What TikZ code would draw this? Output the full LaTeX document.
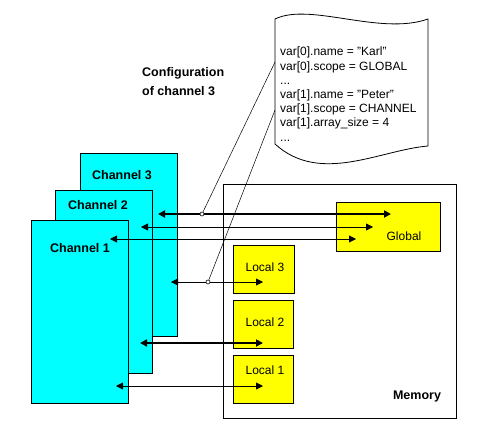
\documentclass[tikz,border=0pt]{standalone}
\usepackage{fontspec}
\setmainfont{Liberation Sans}
\usetikzlibrary{arrows.meta}
\definecolor{chancyan}{RGB}{0,255,255}
\definecolor{memyellow}{RGB}{255,255,0}

\begin{document}
\begin{tikzpicture}[x=1pt, y=-1pt,
    every node/.style={font=\fontsize{12}{14.2}\selectfont, inner sep=0pt},
    chanbox/.style={draw, fill=chancyan, line width=0.9pt},
    membox/.style={draw, fill=memyellow, line width=0.9pt},
    heading/.style={font=\fontsize{12.5}{19.5}\selectfont\bfseries},
    access/.style={line width=0.8pt, {Triangle[length=7pt,width=7pt]}-{Triangle[length=7pt,width=7pt]}},
    heavy/.style={access, line width=1.8pt},
    tap/.style={draw, circle, fill=white, line width=0.6pt, minimum size=4pt},
    leader/.style={line width=0.5pt}]

  \useasboundingbox (0, 0) rectangle (490, 429);

  % channels, back to front
  \draw[chanbox]    ( 80, 153) rectangle (177, 336);
  \node[heading]    (ch3) at (122, 175) {Channel 3};
  \draw[chanbox]    ( 55, 190) rectangle (152, 373);
  \node[heading]    (ch2) at ( 98, 205) {Channel 2};
  \draw[chanbox]    ( 31, 220) rectangle (128, 403);
  \node[heading]    (ch1) at ( 80, 248) {Channel 1};

  % memory with its areas
  \draw[line width=0.9pt] (223, 184) rectangle (456, 418);
  \node[heading]    (mem) at (417, 396) {Memory};
  \draw[membox]     (336, 202) rectangle (440, 251);
  \node             (glob) at (404, 236) {Global};
  \draw[membox]     (233, 245) rectangle (294, 293);
  \node             (loc3) at (265, 267) {Local 3};
  \draw[membox]     (233, 300) rectangle (293, 348);
  \node             (loc2) at (265, 322) {Local 2};
  \draw[membox]     (233, 355) rectangle (293, 403);
  \node             (loc1) at (265, 370) {Local 1};

  % configuration sheet
  \draw[line width=0.8pt, fill=white]
           (275,  19) .. controls (310,   2) and (380,  36) .. (428,  19)
        -- (428, 146) .. controls (380, 150) and (320, 185) .. (275, 144)
        -- cycle;
  \node[anchor=north west, align=left] (cfg) at (280, 47)
    {var[0].name = "Karl"\\
     var[0].scope = GLOBAL\\
     ...\\
     var[1].name = "Peter"\\
     var[1].scope = CHANNEL\\
     var[1].array\_size = 4\\
     ...};
  \node[heading, anchor=north west, align=left] (note) at (142, 67)
    {Configuration\\of channel 3};

  % access paths
  \coordinate (c3a) at (158, 214);  \coordinate (ga)  at (391, 214);
  \coordinate (c2a) at (141, 227);  \coordinate (gb)  at (373, 227);
  \coordinate (c1a) at (110, 239);  \coordinate (gc)  at (356, 239);
  \coordinate (c3b) at (171, 282);  \coordinate (l3)  at (263, 282);
  \coordinate (c2b) at (140, 343);  \coordinate (l2)  at (263, 343);
  \coordinate (c1b) at (116, 386);  \coordinate (l1)  at (263, 386);

  \draw[heavy]  (c3a) -- (ga);
  \draw[access] (c2a) -- (gb);
  \draw[access] (c1a) -- (gc);
  \draw[access] (c3b) -- (l3);
  \draw[heavy]  (c2b) -- (l2);
  \draw[access] (c1b) -- (l1);

  % leaders to the sheet
  \coordinate (sg) at (275,  62);
  \coordinate (sl) at (275, 110);
  \node[tap] (tg) at (202, 214) {};
  \node[tap] (tl) at (208, 282) {};
  \draw[leader] (tg) -- (sg);
  \draw[leader] (tl) -- (sl);

\end{tikzpicture}
\end{document}
